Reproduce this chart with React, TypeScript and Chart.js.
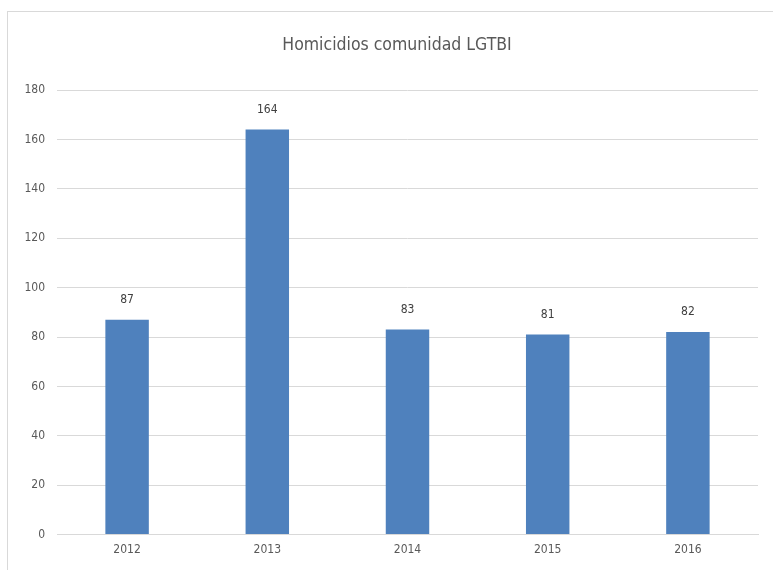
import React, { useEffect, useRef } from "react";
import { Chart, registerables } from "chart.js";

Chart.register(...registerables);

const TITLE = "Homicidios comunidad LGTBI";
const CATEGORIES = ["2012", "2013", "2014", "2015", "2016"];
const VALUES = [87, 164, 83, 81, 82];
const Y_MIN = 0;
const Y_MAX = 180;
const Y_STEP = 20;

const FONT = "'Liberation Sans Narrow', 'DejaVu Sans Condensed', 'Open Sans', sans-serif";

const valueLabels = {
  id: "valueLabels",
  afterDatasetsDraw(chart: any) {
    const ctx = chart.ctx;
    const meta = chart.getDatasetMeta(0);
    ctx.save();
    ctx.font = `12px ${FONT}`;
    ctx.fillStyle = "#404040";
    ctx.textAlign = "center";
    ctx.textBaseline = "middle";
    meta.data.forEach((bar: any, i: number) => {
      ctx.fillText(String(chart.data.datasets[0].data[i]), bar.x, bar.y - 20);
    });
    ctx.restore();
  },
};

const titleDraw = {
  id: "titleDraw",
  afterDraw(chart: any) {
    const ctx = chart.ctx;
    ctx.save();
    ctx.font = `17.5px ${FONT}`;
    ctx.fillStyle = "#595959";
    ctx.textAlign = "center";
    ctx.textBaseline = "middle";
    ctx.fillText(TITLE, 397, 45);
    ctx.restore();
  },
};

export default function App() {
  const ref = useRef<HTMLCanvasElement | null>(null);
  useEffect(() => {
    if (!ref.current) return;
    const chart = new Chart(ref.current, {
      type: "bar",
      data: {
        labels: CATEGORIES,
        datasets: [
          {
            data: VALUES,
            backgroundColor: "#4F81BD",
            categoryPercentage: 1,
            barPercentage: 0.31,
          },
        ],
      },
      options: {
        animation: false,
        responsive: false,
        maintainAspectRatio: false,
        layout: { padding: { left: 0, right: 15, top: 90, bottom: 5 } },
        plugins: {
          legend: { display: false },
          tooltip: { enabled: false },
          title: { display: false },
        },
        scales: {
          x: {
            grid: { display: false, drawTicks: false },
            border: { display: true, color: "#d9d9d9", width: 1 },
            ticks: { color: "#595959", font: { family: FONT, size: 12 }, padding: 8 },
          },
          y: {
            min: Y_MIN,
            max: Y_MAX,
            afterFit(scale: any) {
              scale.width = 57;
            },
            grid: { color: "#d9d9d9", drawTicks: false, lineWidth: 1 },
            border: { display: false },
            ticks: {
              stepSize: Y_STEP,
              color: "#595959",
              font: { family: FONT, size: 12 },
              padding: 12,
            },
          },
        },
      },
      plugins: [valueLabels, titleDraw],
    });
    return () => chart.destroy();
  }, []);
  return (
    <div style={{ position: "fixed", left: 0, top: 0, width: 773, height: 570, background: "#fff", overflow: "hidden" }}>
      <canvas ref={ref} width={773} height={570} style={{ position: "absolute", left: 0, top: 0 }} />
      <div
        style={{
          position: "absolute",
          left: 7,
          top: 11,
          width: 800,
          height: 600,
          borderLeft: "1.5px solid #d9d9d9",
          borderTop: "1.5px solid #d9d9d9",
          pointerEvents: "none",
        }}
      />
    </div>
  );
}
